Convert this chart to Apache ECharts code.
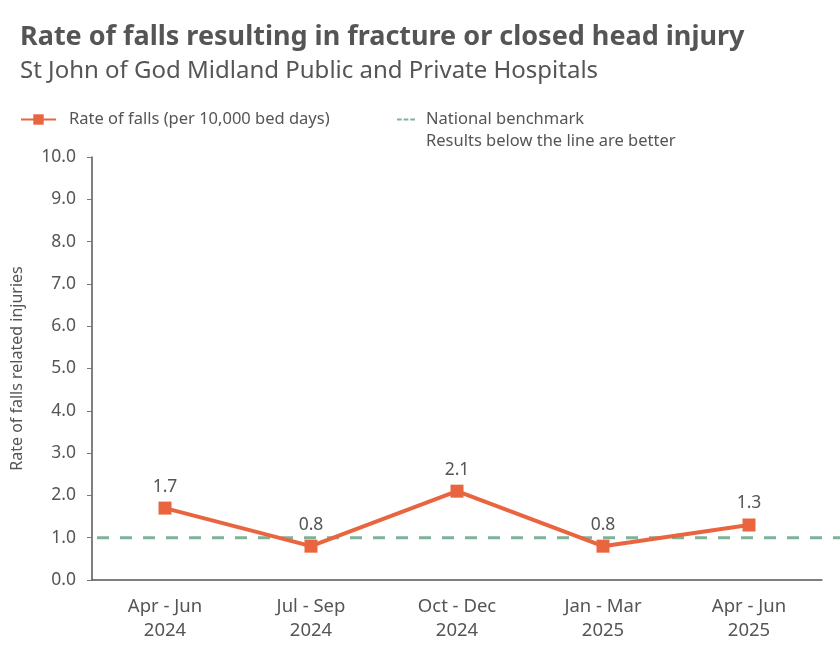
<!DOCTYPE html>
<html><head><meta charset="utf-8">
<script src="https://cdn.jsdelivr.net/npm/echarts@6/dist/echarts.min.js"></script>
<style>html,body{margin:0;padding:0;background:#fff}#c{width:840px;height:654px}</style>
</head><body><div id="c"></div>
<script>
const categories = ['Apr - Jun\n2024', 'Jul - Sep\n2024', 'Oct - Dec\n2024', 'Jan - Mar\n2025', 'Apr - Jun\n2025'];
const rateValues = [1.7, 0.8, 2.1, 0.8, 1.3];
const benchmarkValue = 1.0;
const benchmarkSpan = [0, 1];
const yMin = 0, yMax = 10, yInterval = 1;

const FONT = '"Noto Sans", sans-serif';
const ORANGE = '#E9653F';
const GREEN = '#7DB398';
const TXT = '#555555';
const RATE_NAME = 'Rate of falls (per 10,000 bed days)';
const BENCH_NAME = 'National benchmark';
const BENCH_NOTE = 'Results below the line are better';

const chart = echarts.init(document.getElementById('c'), null, {renderer: 'canvas'});
chart.setOption({
  animation: false,
  backgroundColor: '#fff',
  textStyle: {fontFamily: FONT},
  title: [
    {text: 'Rate of falls resulting in fracture or closed head injury', left: 15, top: 19, padding: 5,
     textStyle: {fontFamily: FONT, fontSize: 27, fontWeight: 'bold', color: TXT}},
    {text: 'St John of God Midland Public and Private Hospitals', left: 15, top: 54, padding: 5,
     textStyle: {fontFamily: FONT, fontSize: 24, fontWeight: 'normal', color: TXT}},
    {text: BENCH_NOTE, left: 426, top: 133, padding: 0,
     textStyle: {fontFamily: FONT, fontSize: 16.5, fontWeight: 'normal', color: TXT}}
  ],
  legend: [
    {data: [{name: RATE_NAME}], left: 20, top: 111, padding: 0, itemWidth: 35, itemHeight: 13,
     textStyle: {fontFamily: FONT, fontSize: 16.5, color: TXT, padding: [0, 0, 0, 8]}},
    {data: [{name: BENCH_NAME, icon: 'path://M0,0 L5,0 L5,2 L0,2 Z M7,0 L12,0 L12,2 L7,2 Z M14,0 L19,0 L19,2 L14,2 Z'}],
     left: 397, top: 111, padding: 0, itemWidth: 18, itemHeight: 2.5,
     textStyle: {fontFamily: FONT, fontSize: 16.5, color: TXT, padding: [0, 0, 0, 6]}}
  ],
  grid: [
    {left: 92, right: 18, top: 157, bottom: 74},
    {left: 97, right: 0, top: 157, bottom: 74}
  ],
  xAxis: [
    {type: 'category', data: categories, gridIndex: 0, boundaryGap: true,
     axisLine: {lineStyle: {color: '#555', width: 1.5}}, axisTick: {show: false},
     axisLabel: {fontFamily: FONT, fontSize: 18.5, color: TXT, lineHeight: 24, margin: 15}},
    {type: 'value', gridIndex: 1, min: 0, max: 1, show: false}
  ],
  yAxis: [
    {type: 'value', gridIndex: 0, min: yMin, max: yMax, interval: yInterval,
     name: 'Rate of falls related injuries', nameLocation: 'middle', nameGap: 67, nameRotate: 90,
     nameTextStyle: {fontFamily: FONT, fontSize: 16, color: TXT},
     axisLine: {show: true, lineStyle: {color: '#555', width: 1.5}},
     axisTick: {show: true, length: 5, lineStyle: {color: '#777'}},
     splitLine: {show: false},
     axisLabel: {fontFamily: FONT, fontSize: 17.5, color: TXT, margin: 16, formatter: v => v.toFixed(1)}},
    {type: 'value', gridIndex: 1, min: yMin, max: yMax, show: false}
  ],
  series: [
    {name: BENCH_NAME, type: 'line', xAxisIndex: 1, yAxisIndex: 1,
     data: benchmarkSpan.map(x => [x, benchmarkValue]), symbol: 'none', z: 1,
     lineStyle: {color: GREEN, width: 3, type: [12, 11]}, itemStyle: {color: GREEN}},
    {name: RATE_NAME, type: 'line', xAxisIndex: 0, yAxisIndex: 0,
     data: rateValues, symbol: 'rect', symbolSize: 13, z: 3,
     lineStyle: {color: ORANGE, width: 4}, itemStyle: {color: ORANGE},
     label: {show: true, position: 'top', distance: 6, fontFamily: FONT, fontSize: 17.5, color: TXT,
             formatter: p => p.value.toFixed(1)}}
  ]
});
</script></body></html>
